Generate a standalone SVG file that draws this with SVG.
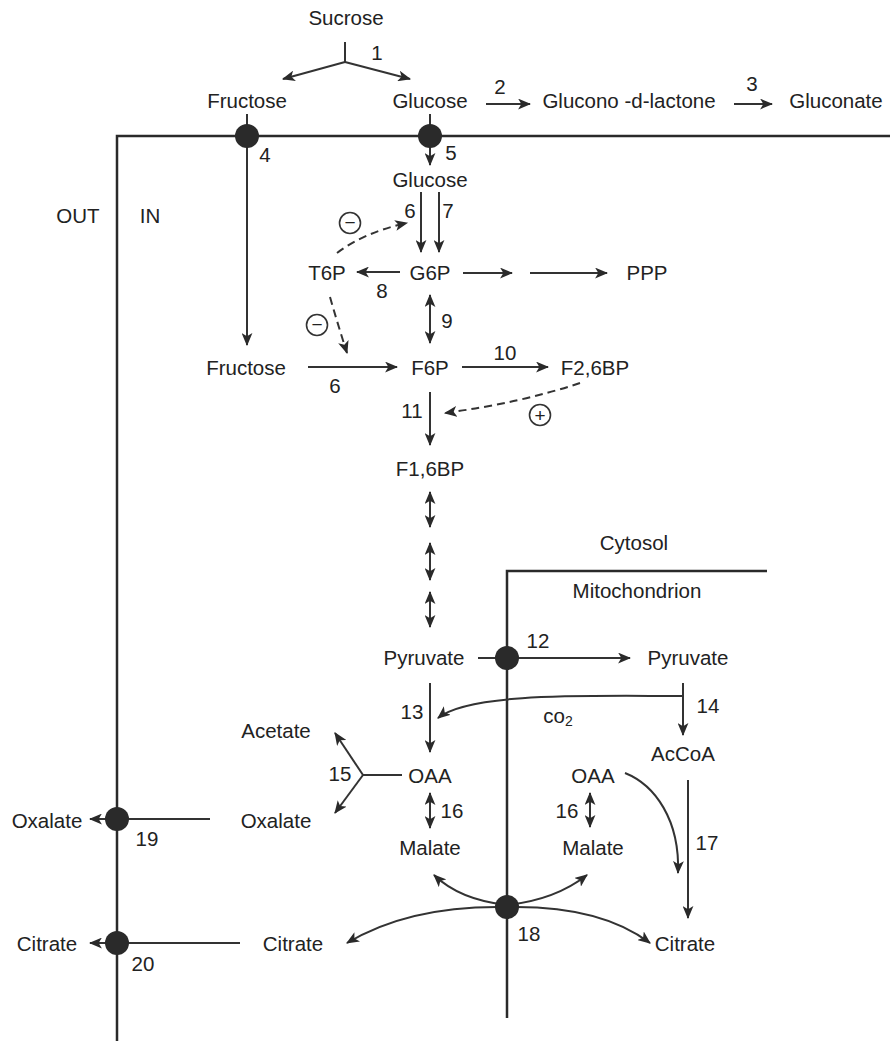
<svg xmlns="http://www.w3.org/2000/svg" width="890" height="1041" viewBox="0 0 890 1041">
<defs>
<marker id="ah" viewBox="0 0 12 10" refX="11" refY="5" markerWidth="13" markerHeight="11" markerUnits="userSpaceOnUse" orient="auto-start-reverse"><path d="M0,0 L12,5 L0,10 L3,5 z" fill="#2a2a2a"/></marker>
</defs>
<style>
text{font-family:"Liberation Sans",Arial,sans-serif;font-size:20.5px;fill:#222;text-anchor:middle;dominant-baseline:central}
.c{fill:none;stroke:#333;stroke-width:2}
.a{marker-end:url(#ah)}
.d{marker-start:url(#ah);marker-end:url(#ah)}
.dash{stroke-dasharray:8 5}
.m{fill:none;stroke:#2a2a2a;stroke-width:2.5}
.t{fill:#2a2a2a}
.sg{fill:none;stroke:#333;stroke-width:1.6}
.s text{font-size:19px}
</style>
<rect width="890" height="1041" fill="#fff"/>
<g id="membranes">
<path class="m" d="M117,1041 V136 H890"/>
<path class="m" d="M507,1018 V571 H767"/>
</g>
<g id="connectors">
<path class="c" d="M345,42 V62"/>
<path class="c a" d="M345,62 L283,79"/>
<path class="c a" d="M345,62 L410,79"/>
<path class="c a" d="M247,114 V345"/>
<path class="c" d="M430,114 V136"/>
<path class="c a" d="M430,136 V165"/>
<path class="c a" d="M486,104 H530"/>
<path class="c a" d="M734,104 H772"/>
<path class="c a" d="M421,192 V252"/>
<path class="c a" d="M439,192 V252"/>
<path class="c a" d="M400,272 H357"/>
<path class="c a dash" d="M337,253 Q365,232 407,223"/>
<path class="c a dash" d="M330,297 Q338,325 347,353"/>
<path class="c d" d="M430,295 V343"/>
<path class="c a" d="M308,367 H397"/>
<path class="c a" d="M463,273 H512"/>
<path class="c a" d="M530,273 H607"/>
<path class="c a" d="M462,367 H548"/>
<path class="c a dash" d="M580,383 Q520,403 445,413"/>
<path class="c a" d="M430,392 V445"/>
<path class="c d" d="M430,492 V527"/>
<path class="c d" d="M430,543 V580"/>
<path class="c d" d="M430,592 V627"/>
<path class="c" d="M478,658 H507"/>
<path class="c a" d="M507,658 H630"/>
<path class="c a" d="M430,683 V752"/>
<path class="c a" d="M683,696 C590,696 470,692 438,718"/>
<path class="c a" d="M683,683 V735"/>
<path class="c" d="M402,775 H363"/>
<path class="c a" d="M363,775 L335,733"/>
<path class="c a" d="M363,775 L335,813"/>
<path class="c d" d="M430,793 V828"/>
<path class="c" d="M210,819 H117"/>
<path class="c a" d="M117,819 H90"/>
<path class="c a" d="M625,773 C655,785 680,820 678,873"/>
<path class="c a" d="M688,780 V918"/>
<path class="c d" d="M590,793 V827"/>
<path class="c a" d="M507,905 Q460,900 434,875"/>
<path class="c a" d="M507,905 Q555,900 587,875"/>
<path class="c a" d="M507,907 Q410,905 347,943"/>
<path class="c a" d="M507,907 Q600,905 650,943"/>
<path class="c" d="M240,943 H117"/>
<path class="c a" d="M117,943 H90"/>
</g>
<g id="transporters">
<circle id="t4" class="t" cx="247" cy="136" r="12"/>
<circle id="t5" class="t" cx="430" cy="136" r="12"/>
<circle id="t12" class="t" cx="507" cy="658" r="12"/>
<circle id="t19" class="t" cx="117" cy="819" r="12"/>
<circle id="t20" class="t" cx="117" cy="943" r="12"/>
<circle id="t18" class="t" cx="507" cy="907" r="12"/>
</g>
<g id="effectors" class="s">
<g id="inh1"><circle class="sg" cx="350" cy="223" r="10.5"/><text x="350" y="222">−</text></g>
<g id="inh2"><circle class="sg" cx="317" cy="325" r="10.5"/><text x="317" y="324">−</text></g>
<g id="act1"><circle class="sg" cx="540" cy="415" r="10.5"/><text x="540" y="415">+</text></g>
</g>
<g id="labels">
<g id="sucrose"><text x="346" y="17">Sucrose</text></g>
<g id="fructose-out"><text x="247" y="100">Fructose</text></g>
<g id="glucose-out"><text x="430" y="100">Glucose</text></g>
<g id="glucono"><text x="629" y="100">Glucono -d-lactone</text></g>
<g id="gluconate"><text x="836" y="100">Gluconate</text></g>
<g id="glucose-in"><text x="430" y="179">Glucose</text></g>
<g id="t6p"><text x="327" y="272">T6P</text></g>
<g id="g6p"><text x="430" y="272">G6P</text></g>
<g id="ppp"><text x="647" y="272">PPP</text></g>
<g id="fructose-in"><text x="246" y="367">Fructose</text></g>
<g id="f6p"><text x="430" y="367">F6P</text></g>
<g id="f26bp"><text x="595" y="367">F2,6BP</text></g>
<g id="f16bp"><text x="430" y="468">F1,6BP</text></g>
<g id="cytosol"><text x="634" y="542">Cytosol</text></g>
<g id="mitochondrion"><text x="637" y="590">Mitochondrion</text></g>
<g id="out"><text x="78" y="215">OUT</text></g>
<g id="in"><text x="150" y="215">IN</text></g>
<g id="pyruvate-c"><text x="424" y="657">Pyruvate</text></g>
<g id="pyruvate-m"><text x="688" y="657">Pyruvate</text></g>
<g id="co2"><text x="558" y="715">co<tspan font-size="14" dy="6">2</tspan></text></g>
<g id="accoa"><text x="683" y="753">AcCoA</text></g>
<g id="acetate"><text x="276" y="730">Acetate</text></g>
<g id="oaa-c"><text x="430" y="775">OAA</text></g>
<g id="oaa-m"><text x="593" y="775">OAA</text></g>
<g id="oxalate-m"><text x="276" y="820">Oxalate</text></g>
<g id="oxalate-o"><text x="47" y="820">Oxalate</text></g>
<g id="malate-c"><text x="430" y="847">Malate</text></g>
<g id="malate-m"><text x="593" y="847">Malate</text></g>
<g id="citrate-c"><text x="293" y="943">Citrate</text></g>
<g id="citrate-o"><text x="47" y="943">Citrate</text></g>
<g id="citrate-m"><text x="685" y="943">Citrate</text></g>
</g>
<g id="numbers">
<text x="377" y="52">1</text>
<text x="500" y="86">2</text>
<text x="752" y="83">3</text>
<text x="265" y="154">4</text>
<text x="451" y="152">5</text>
<text x="410" y="210">6</text>
<text x="448" y="210">7</text>
<text x="382" y="290">8</text>
<text x="447" y="320">9</text>
<text x="335" y="385">6</text>
<text x="505" y="352">10</text>
<text x="412" y="410">11</text>
<text x="538" y="640">12</text>
<text x="412" y="711">13</text>
<text x="708" y="705">14</text>
<text x="340" y="773">15</text>
<text x="452" y="810">16</text>
<text x="567" y="810">16</text>
<text x="707" y="842">17</text>
<text x="529" y="933">18</text>
<text x="147" y="838">19</text>
<text x="143" y="963">20</text>
</g>
</svg>
